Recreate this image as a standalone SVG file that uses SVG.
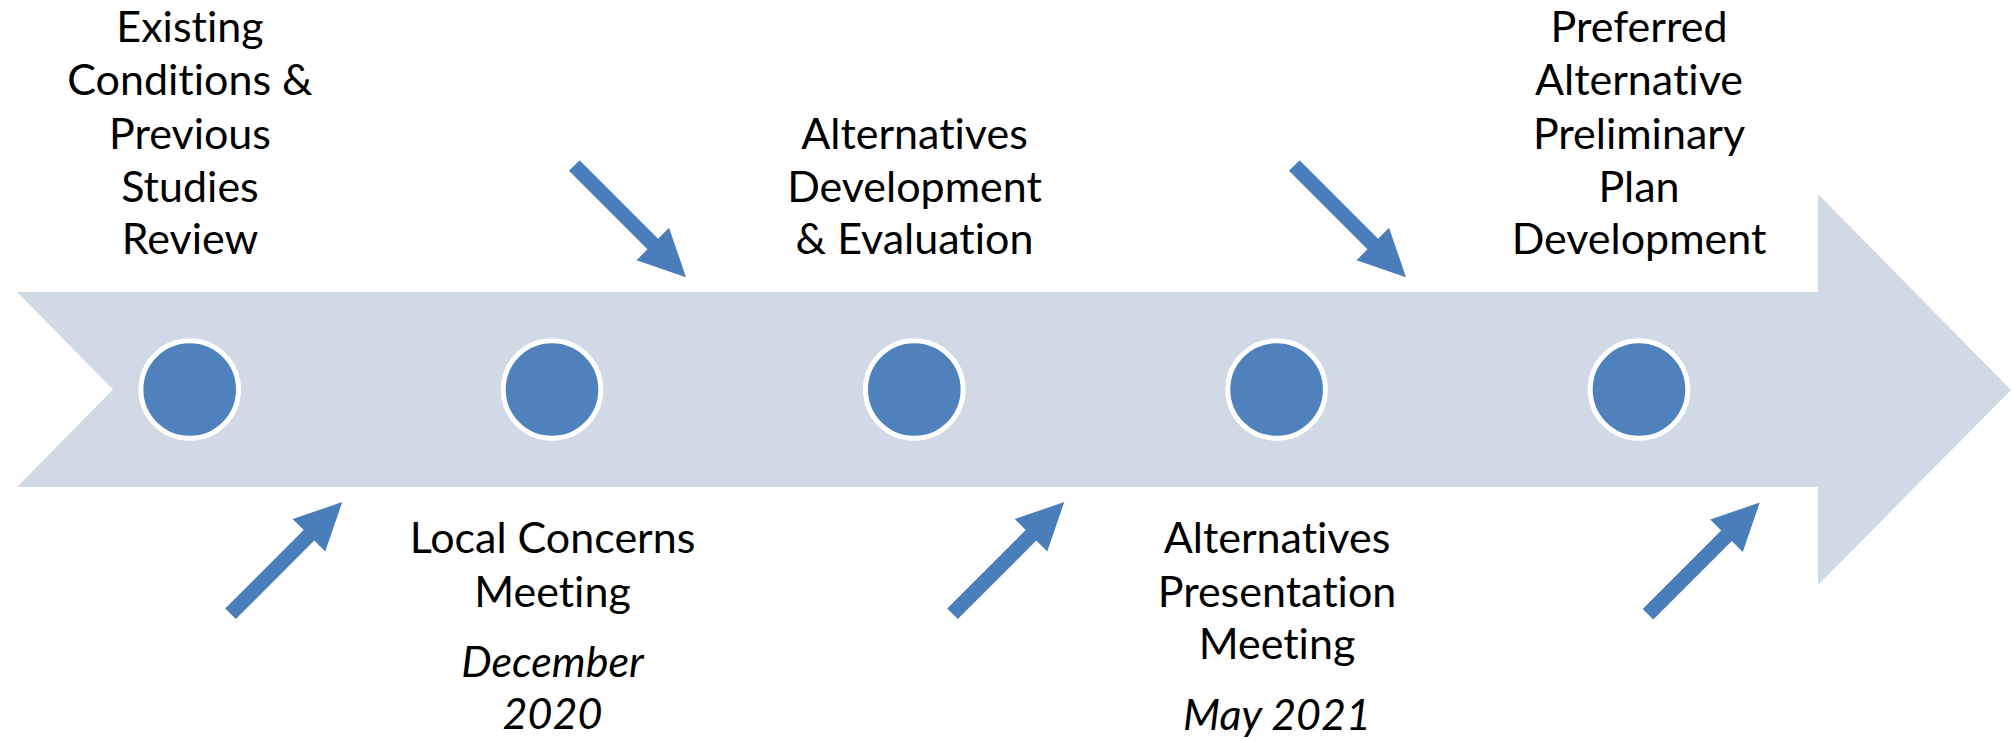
<svg xmlns="http://www.w3.org/2000/svg" xmlns:xlink="http://www.w3.org/1999/xlink" width="2011" height="741" viewBox="0 0 2011 741">
<style>
.lbl{font-family:Lato,"Open Sans","Liberation Sans",sans-serif;font-size:43px;fill:#000;text-anchor:middle;font-variant-ligatures:none;font-feature-settings:"liga" 0}
.it{font-style:italic}
.dot{fill:#4F81BD;stroke:#FFFFFF;stroke-width:5}
.sa{fill:#4A7EBB}
</style>
<defs>
<path id="sarrow" d="M0,-7.5 L111,-7.5 L111,-23 L158,0 L111,23 L111,7.5 L0,7.5 Z"/>
</defs>
<rect width="2011" height="741" fill="#FFFFFF"/>
<g id="timeline">
<polygon points="17,292 1818,292 1818,194 2011,390 1818,585 1818,487 17,487 113,389.5" fill="#D1D9E7"/>
</g>
<g id="milestone1"><circle class="dot" cx="189.7" cy="389.5" r="48.8"/>
<text class="lbl"><tspan x="190" y="42">Existing</tspan><tspan x="190" y="95">Conditions &amp;</tspan><tspan x="190" y="149">Previous</tspan><tspan x="190" y="202">Studies</tspan><tspan x="190" y="254">Review</tspan></text></g>
<g id="milestone2"><circle class="dot" cx="552" cy="389.5" r="48.8"/>
<text class="lbl"><tspan x="552.5" y="553">Local Concerns</tspan><tspan x="552.5" y="607">Meeting</tspan></text>
<text class="lbl it"><tspan x="552.5" y="677">December</tspan><tspan x="552.5" y="729">2020</tspan></text></g>
<g id="milestone3"><circle class="dot" cx="914.3" cy="389.5" r="48.8"/>
<text class="lbl"><tspan x="914.5" y="149">Alternatives</tspan><tspan x="914.5" y="202">Development</tspan><tspan x="914.5" y="254">&amp; Evaluation</tspan></text></g>
<g id="milestone4"><circle class="dot" cx="1276.6" cy="389.5" r="48.8"/>
<text class="lbl"><tspan x="1277" y="553">Alternatives</tspan><tspan x="1277" y="607">Presentation</tspan><tspan x="1277" y="659">Meeting</tspan></text>
<text class="lbl it"><tspan x="1277" y="730">May 2021</tspan></text></g>
<g id="milestone5"><circle class="dot" cx="1639" cy="389.5" r="48.8"/>
<text class="lbl"><tspan x="1639" y="42">Preferred</tspan><tspan x="1639" y="95">Alternative</tspan><tspan x="1639" y="149">Preliminary</tspan><tspan x="1639" y="202">Plan</tspan><tspan x="1639" y="254">Development</tspan></text></g>
<g id="connectors" class="sa">
<use xlink:href="#sarrow" transform="translate(574.3,165.5) rotate(45)"/>
<use xlink:href="#sarrow" transform="translate(1294.3,165.5) rotate(45)"/>
<use xlink:href="#sarrow" transform="translate(230.5,613.8) rotate(-45)"/>
<use xlink:href="#sarrow" transform="translate(952.5,613.8) rotate(-45)"/>
<use xlink:href="#sarrow" transform="translate(1648,614.3) rotate(-45)"/>
</g>
</svg>
